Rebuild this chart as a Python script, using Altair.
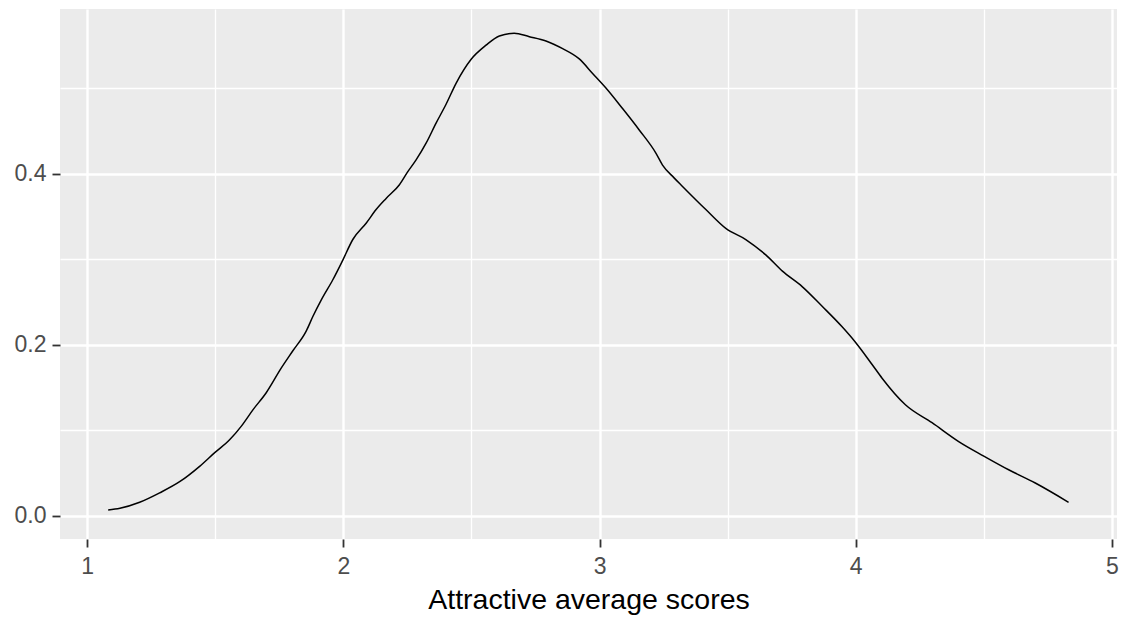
import altair as alt
import pandas as pd

# Kernel density estimate of attractive average scores
score = [1.082, 1.128, 1.205, 1.283, 1.361, 1.439, 1.498, 1.556, 1.602, 1.647,
         1.699, 1.758, 1.803, 1.855, 1.881, 1.914, 1.959, 1.998, 2.037, 2.089,
         2.128, 2.167, 2.219, 2.251, 2.284, 2.323, 2.362, 2.401, 2.440, 2.499,
         2.557, 2.609, 2.667, 2.726, 2.791, 2.856, 2.921, 2.973, 3.025, 3.090,
         3.155, 3.220, 3.246, 3.291, 3.324, 3.415, 3.493, 3.571, 3.649, 3.714,
         3.791, 3.869, 3.947, 3.999, 4.064, 4.103, 4.194, 4.298, 4.402, 4.500,
         4.597, 4.701, 4.831]
density = [0.007, 0.009, 0.016, 0.027, 0.040, 0.058, 0.074, 0.089, 0.105, 0.124,
           0.144, 0.173, 0.193, 0.216, 0.233, 0.2525, 0.276, 0.299, 0.323, 0.342,
           0.358, 0.371, 0.387, 0.402, 0.416, 0.4355, 0.459, 0.481, 0.5055, 0.5336,
           0.550, 0.5608, 0.564, 0.560, 0.555, 0.546, 0.534, 0.517, 0.500, 0.476,
           0.451, 0.424, 0.410, 0.395, 0.385, 0.358, 0.336, 0.323, 0.305, 0.286,
           0.268, 0.245, 0.221, 0.203, 0.177, 0.161, 0.130, 0.109, 0.087, 0.070,
           0.054, 0.0385, 0.016]

x_ticks = [1, 1.5, 2, 2.5, 3, 3.5, 4, 4.5, 5]
y_ticks = [0.0, 0.1, 0.2, 0.3, 0.4, 0.5]

df = pd.DataFrame({"score": score, "density": density})

FONT = "Liberation Sans"

x_axis = alt.Axis(
    values=x_ticks,
    format=".0f",
    labelExpr="datum.value % 1 === 0 ? datum.label : ''",
    tickOpacity=alt.expr("datum.value % 1 === 0 ? 1 : 0"),
    gridWidth=alt.expr("datum.value % 1 === 0 ? 2.4 : 1.3"),
    gridColor="white",
    gridOpacity=1,
    domain=False,
    tickColor="#333333",
    tickSize=8,
    tickWidth=1.8,
    labelColor="#4D4D4D",
    labelFont=FONT,
    labelFontSize=23,
    labelPadding=8,
    title="Attractive average scores",
    titleFont=FONT,
    titleFontSize=28.5,
    titleFontWeight="normal",
    titleColor="black",
    titlePadding=7,
)

y_axis = alt.Axis(
    values=y_ticks,
    format=".1f",
    labelExpr="round(datum.value * 10) % 2 === 0 ? datum.label : ''",
    tickOpacity=alt.expr("round(datum.value * 10) % 2 === 0 ? 1 : 0"),
    gridWidth=alt.expr("round(datum.value * 10) % 2 === 0 ? 2.4 : 1.3"),
    gridColor="white",
    gridOpacity=1,
    domain=False,
    tickColor="#333333",
    tickSize=8,
    tickWidth=1.8,
    labelColor="#4D4D4D",
    labelFont=FONT,
    labelFontSize=23,
    labelPadding=6,
    title=None,
)

chart = (
    alt.Chart(df)
    .mark_line(color="black", strokeWidth=1.5, interpolate="monotone")
    .encode(
        x=alt.X("score:Q", scale=alt.Scale(domain=[0.894, 5.02], nice=False, zero=False), axis=x_axis),
        y=alt.Y("density:Q", scale=alt.Scale(domain=[-0.0269, 0.5923], nice=False, zero=False), axis=y_axis),
    )
    .properties(
        width=1057,
        height=530,
        background="white",
        autosize=alt.AutoSizeParams(type="none"),
        padding={"left": 60, "top": 9, "right": 6, "bottom": 82},
    )
    .configure_view(fill="#EBEBEB", strokeWidth=0)
)

chart.save("out.html", embed_options={"renderer": "svg", "actions": False})
